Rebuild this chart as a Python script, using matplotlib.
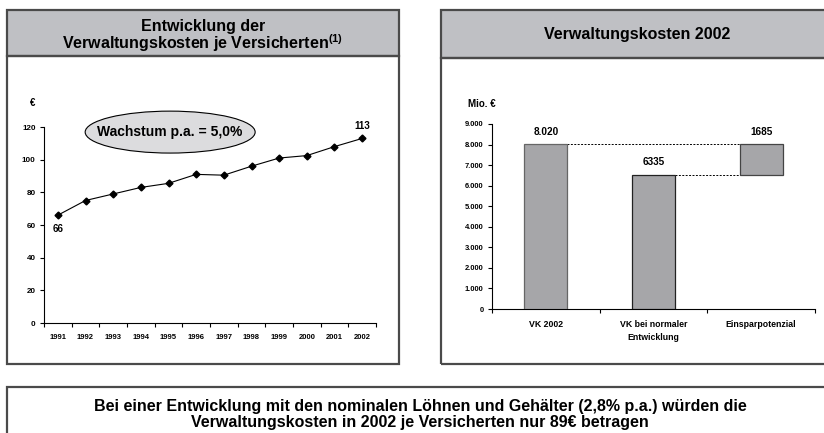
import matplotlib
matplotlib.use("Agg")
import matplotlib.pyplot as plt
from matplotlib.patches import Rectangle, Ellipse

plt.rcParams["font.family"] = ["Liberation Sans", "DejaVu Sans"]
plt.rcParams["font.weight"] = "bold"
plt.rcParams["mathtext.fontset"] = "custom"
plt.rcParams["mathtext.bf"] = "Liberation Sans:bold"
plt.rcParams["mathtext.rm"] = "Liberation Sans:bold"

# Left chart: admin costs per insured person (EUR)
years = ["1991", "1992", "1993", "1994", "1995", "1996", "1997",
         "1998", "1999", "2000", "2001", "2002"]
cost_per_insured = [66, 75, 79, 83, 85.5, 91, 90.5, 96, 101, 102.5, 108, 113]

# Right chart: admin costs 2002 (Mio. EUR)
bar_categories = ["VK 2002", "VK bei normaler\nEntwicklung", "Einsparpotenzial"]
vk_2002 = 8020
vk_normal = 6520
bar_labels = ["8.020", "6335", "1685"]

W, H = 824, 433
fig = plt.figure(figsize=(W / 100, H / 100), dpi=100)
PANEL = "#bfc0c4"
EDGE = "#4a4a4a"


def fx(px):
    return px / W


def fy(py):
    return 1 - py / H


def box(x0, y0, x1, y1, face="none", lw=1.6):
    fig.patches.append(Rectangle((fx(x0), fy(y1)), fx(x1) - fx(x0), fy(y0) - fy(y1),
                                 transform=fig.transFigure, facecolor=face,
                                 edgecolor=EDGE, linewidth=lw, clip_on=False))


# panels
box(7, 10, 399, 56, face=PANEL)
box(7, 56, 399, 364)
box(441, 10, 840, 58, face=PANEL)
box(441, 58, 840, 364)
box(7, 387, 840, 445)

fig.text(fx(203), fy(26), "Entwicklung der", ha="center", va="center", fontsize=11.5)
fig.text(fx(203), fy(43), r"Verwaltungskosten je Versicherten$^{\mathbf{(1)}}$",
         ha="center", va="center", fontsize=11.5)
fig.text(fx(637), fy(34), "Verwaltungskosten 2002", ha="center", va="center", fontsize=11.5)
fig.text(fx(420), fy(406), "Bei einer Entwicklung mit den nominalen Löhnen und Gehälter "
         "(2,8% p.a.) würden die", ha="center", va="center", fontsize=11.5)
fig.text(fx(420), fy(423), "Verwaltungskosten in 2002 je Versicherten nur 89€ betragen",
         ha="center", va="center", fontsize=11.5)

# ---- left line chart
ax1 = fig.add_axes([fx(44), fy(323), fx(376) - fx(44), fy(127) - fy(323)])
x = list(range(len(years)))
ax1.plot(x, cost_per_insured, color="black", lw=0.8, marker="D", markersize=3.5)
ax1.set_xlim(-0.5, len(years) - 0.5)
ax1.set_ylim(0, 120)
ax1.set_yticks(range(0, 121, 20))
ax1.set_xticks([i - 0.5 for i in range(len(years) + 1)])
ax1.set_xticklabels([])
ax1.set_xticks(x, minor=True)
ax1.set_xticklabels(years, minor=True)
ax1.tick_params(axis="x", which="minor", length=0, labelsize=5.5, pad=8)
ax1.tick_params(axis="x", which="major", length=3)
ax1.tick_params(axis="y", length=3, labelsize=5.8, pad=3)
for s in ["top", "right"]:
    ax1.spines[s].set_visible(False)
for s in ["left", "bottom"]:
    ax1.spines[s].set_linewidth(0.8)
ax1.annotate(str(cost_per_insured[0]), (0, cost_per_insured[0]), xytext=(0, -10),
             textcoords="offset points", ha="center", va="center", fontsize=7)
ax1.annotate(str(cost_per_insured[-1]), (len(years) - 1, cost_per_insured[-1]),
             xytext=(0, 9), textcoords="offset points", ha="center", va="center", fontsize=7)
ax1.text(-0.035, 1.12, "€", transform=ax1.transAxes, ha="center", va="center", fontsize=7)
ax1.add_patch(Ellipse((0.38, 0.974), 0.512, 0.214, transform=ax1.transAxes,
                      facecolor="#dcdcde", edgecolor="black", lw=0.8, clip_on=False, zorder=5))
ax1.text(0.38, 0.974, "Wachstum p.a. = 5,0%", transform=ax1.transAxes, ha="center",
         va="center", fontsize=10, zorder=6)

# ---- right waterfall chart
ax2 = fig.add_axes([fx(492), fy(309), fx(815) - fx(492), fy(124) - fy(309)])
pos = [0, 1, 2]
bw = 0.4
heights = [vk_2002, vk_normal, vk_2002 - vk_normal]
bottoms = [0, 0, vk_normal]
ax2.bar(pos, heights, bottom=bottoms, width=bw, color="#a6a6a9",
        edgecolor=["#666666", "#222222", "#444444"], linewidth=0.9, zorder=3)
ax2.plot([0 + bw / 2, 2 - bw / 2], [vk_2002, vk_2002], ls=(0, (2, 1.5)), color="black", lw=0.7)
ax2.plot([1 + bw / 2, 2 - bw / 2], [vk_normal, vk_normal], ls=(0, (2, 1.5)), color="black", lw=0.7)
label_y = [vk_2002 + 600, vk_normal + 650, vk_2002 + 600]
for p, ly, lab in zip(pos, label_y, bar_labels):
    ax2.text(p, ly, lab, ha="center", va="center", fontsize=7.2)
ax2.set_xlim(-0.5, 2.5)
ax2.set_ylim(0, 9000)
ax2.set_yticks(range(0, 9001, 1000))
ax2.set_yticklabels([f"{v:,}".replace(",", ".") for v in range(0, 9001, 1000)])
ax2.set_xticks([-0.5, 0.5, 1.5, 2.5])
ax2.set_xticklabels([])
ax2.set_xticks(pos, minor=True)
ax2.set_xticklabels(bar_categories, minor=True, linespacing=1.5)
ax2.tick_params(axis="x", which="minor", length=0, labelsize=6.3, pad=8)
ax2.tick_params(axis="x", which="major", length=3)
ax2.tick_params(axis="y", length=3, labelsize=5.4, pad=3)
for s in ["top", "right"]:
    ax2.spines[s].set_visible(False)
for s in ["left", "bottom"]:
    ax2.spines[s].set_linewidth(0.8)
ax2.text(-0.03, 1.11, "Mio. €", transform=ax2.transAxes, ha="center", va="center", fontsize=7)

fig.savefig("out.png", dpi=100)
